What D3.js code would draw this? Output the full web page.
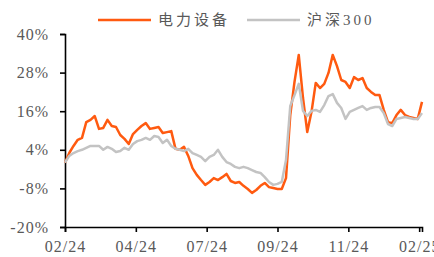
<!DOCTYPE html>
<html>

<head>
    <meta charset="utf-8">
    <style>
        body {
            margin: 0;
            background: #fff;
        }

        svg {
            display: block;
        }

        .axis .domain {
            stroke: #000;
            stroke-width: 1.6px;
        }

        .axis .tick line {
            stroke: #000;
            stroke-width: 1.6px;
        }

        .axis .tick text {
            font-family: 'Liberation Serif', 'DejaVu Serif', serif;
            font-size: 16px;
            letter-spacing: 1px;
            fill: #595959;
        }

        .legend {
            /* latin digits in serif, CJK falls back */
            font-family: 'Liberation Serif', 'Noto Sans CJK SC', serif;
            font-size: 15px;
            letter-spacing: 3px;
            fill: #595959;
        }
    </style>
</head>

<body>
    <svg width="434" height="257"></svg>
</body>

<script src="https://cdn.jsdelivr.net/npm/d3@7/dist/d3.min.js"></script>

<script>
    // one value every 3 trading days, cumulative return in %
    let stepDays = 3

    let elecEquip = [0, 3.0, 5.2, 7.1, 7.7, 12.6, 13.3, 14.5, 10.5, 10.8, 13.3, 11.4, 11.1, 8.6, 7.4, 5.8,
        8.9, 10.2, 11.4, 12.3, 10.5, 10.8, 11.1, 9.2, 9.5, 9.8, 4.3, 4.0, 4.9, 2.1, -1.7, -3.8, -5.4, -6.9,
        -6.0, -4.8, -5.4, -4.5, -3.5, -5.7, -6.3, -6.0, -7.2, -8.2, -9.4, -8.5, -7.2, -6.3, -7.6, -7.9, -8.2,
        -8.2, -4.8, 14.8, 25.1, 33.5, 20.1, 9.5, 15.8, 24.8, 23.2, 24.5, 27.9, 33.5, 30.0, 25.7, 25.1, 23.2,
        26.6, 25.7, 26.3, 23.2, 22.0, 21.0, 21.0, 16.4, 12.6, 12.3, 14.8, 16.4, 14.8, 14.2, 13.9, 13.6, 18.9]

    let hs300 = [0, 2.1, 3.0, 3.6, 4.0, 4.6, 5.2, 5.2, 5.2, 4.0, 4.9, 4.3, 3.3, 3.6, 4.6, 4.0,
        5.8, 6.7, 7.1, 7.7, 7.1, 8.3, 8.0, 6.1, 7.1, 5.2, 4.3, 4.0, 3.6, 4.3, 3.0, 2.4, 1.8, 0.5,
        1.8, 2.4, 4.0, 1.8, 0.2, -0.4, -1.3, -1.7, -1.3, -1.7, -2.3, -2.9, -3.2, -4.5, -6.0, -6.9, -6.6,
        -6.0, 0.8, 17.6, 21.0, 24.5, 16.1, 14.5, 16.1, 16.4, 15.8, 17.9, 20.7, 21.3, 18.6, 17.0, 13.6, 15.8,
        16.4, 17.0, 17.6, 16.4, 17.0, 17.3, 17.3, 15.4, 12.0, 11.4, 13.6, 13.9, 14.2, 13.9, 13.6, 13.6, 15.4]

    let seriesNames = ["电力设备", "沪深300"]
    let seriesColors = ["#ff5a10", "#c3c3c3"]

    let tickDays = [0, 50, 100, 150, 200, 250]
    let tickLabels = ["02/24", "04/24", "07/24", "09/24", "11/24", "02/25"]
    let yTicks = [-20, -8, 4, 16, 28, 40]

    let margin = { top: 34, right: 12, bottom: 30, left: 65 }
    let width = 434
    let height = 257

    let svg = d3.select("svg")

    let series = [elecEquip, hs300].map((vals, i) => ({
        name: seriesNames[i],
        color: seriesColors[i],
        values: vals.map((v, j) => ({ day: j * stepDays, v: v }))
    }))

    let x = d3.scaleLinear()
        .domain([0, (elecEquip.length - 1) * stepDays])
        .range([margin.left, width - margin.right])

    let y = d3.scaleLinear()
        .domain([-20, 40])
        .range([height - margin.bottom, margin.top])

    // axes
    svg.append("g")
        .attr("class", "x axis")
        .attr("transform", `translate(0,${height - margin.bottom})`)
        .call(d3.axisBottom(x)
            .tickValues(tickDays)
            .tickFormat((d, i) => tickLabels[i])
            .tickSizeOuter(0)
            .tickSize(5)
            .tickPadding(9))

    svg.append("g")
        .attr("class", "y axis")
        .attr("transform", `translate(${margin.left},0)`)
        .call(d3.axisLeft(y)
            .tickValues(yTicks)
            .tickFormat(d => d + "%")
            .tickSizeOuter(0)
            .tickSize(5)
            .tickPadding(11))

    // lines
    let line = d3.line()
        .x(d => x(d.day))
        .y(d => y(d.v))

    svg.append("g")
        .selectAll("path")
        .data(series)
        .join("path")
        .attr("fill", "none")
        .attr("stroke", d => d.color)
        .attr("stroke-width", 2.5)
        .attr("stroke-linejoin", "round")
        .attr("d", d => line(d.values))

    // legend
    let legendX = [98, 247]
    let legend = svg.append("g")
        .selectAll("g")
        .data(series)
        .join("g")
        .attr("transform", (d, i) => `translate(${legendX[i]},20)`)

    legend.append("line")
        .attr("x1", 0)
        .attr("x2", 53)
        .attr("stroke", d => d.color)
        .attr("stroke-width", 2.6)

    legend.append("text")
        .attr("class", "legend")
        .attr("x", 60)
        .attr("dy", "0.35em")
        .text(d => d.name)
</script>

</html>
